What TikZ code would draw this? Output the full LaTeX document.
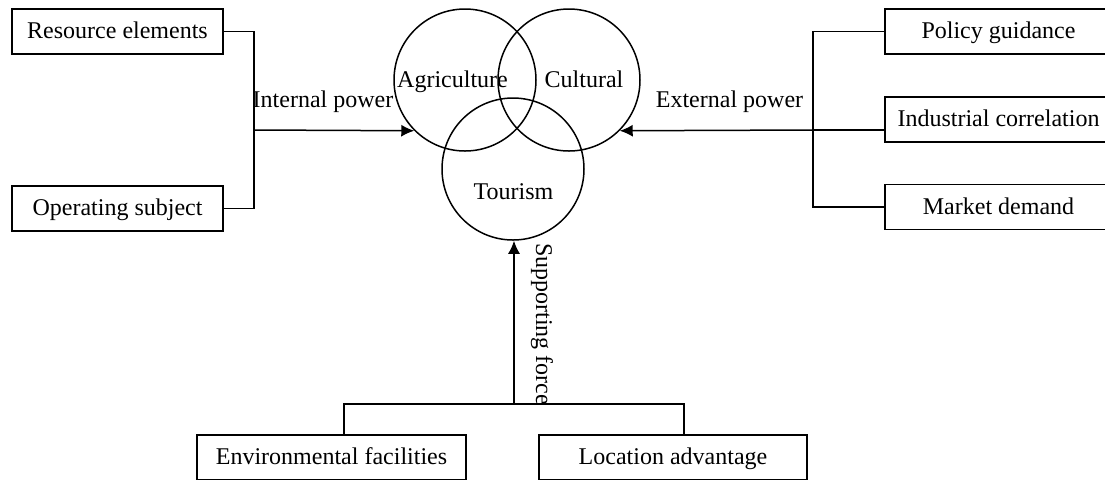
\documentclass[tikz,border=0pt]{standalone}
\usepackage{fontspec}
\setmainfont{Liberation Serif}
\usetikzlibrary{arrows.meta}
\tikzset{
  px/.style={x=0.5pt,y=-0.5pt},
  box/.style={draw,line width=0.75pt,inner sep=0pt,minimum height=22.5pt,text height=9pt,text depth=2pt,font=\fontsize{12pt}{14pt}\selectfont},
  ring/.style={draw,circle,line width=0.75pt,inner sep=0pt,minimum size=71pt},
  lbl/.style={inner sep=0pt,text height=9pt,text depth=2pt,font=\fontsize{12pt}{14pt}\selectfont},
  conn/.style={line width=0.75pt},
  arr/.style={line width=0.75pt,-{Latex[length=6.5pt,width=6pt]}}
}
\begin{document}
\begin{tikzpicture}[px]
\useasboundingbox (0,0) rectangle (1105,479);
\clip (0,0) rectangle (1105,479);
% circles
\node[ring] (agri) at (465,80) {};
\node[ring] (cult) at (569,80) {};
\node[ring] (tour) at (513,169) {};
\node[lbl] (agrit) at (452.5,80) {Agriculture};
\node[lbl] (cultt) at (584,80) {Cultural};
\node[lbl] (tourt) at (513.5,192) {Tourism};
% left boxes
\node[box,minimum width=105.5pt] (res) at (117.5,31.5) {Resource elements};
\node[box,minimum width=105.5pt] (op) at (117.5,208.5) {Operating subject};
% right boxes
\node[box,minimum width=113.5pt] (pol) at (998.5,31.5) {Policy guidance};
\node[box,minimum width=113.5pt] (ind) at (998.5,119.5) {Industrial correlation};
\node[box,minimum width=113.5pt] (mkt) at (998.5,207) {Market demand};
% bottom boxes
\node[box,minimum width=134.5pt] (env) at (331.5,457.5) {Environmental facilities};
\node[box,minimum width=134pt] (loc) at (673,457.5) {Location advantage};
% junctions
\coordinate (lj) at (254,130);
\coordinate (rj) at (813,130);
\coordinate (bj) at (514,404);
% left connectors
\draw[conn] (res.east) -| (lj);
\draw[conn] (op.east) -| (lj);
\draw[arr] (lj) -- (agri.225);
\node[lbl] (intl) at (323,100) {Internal power};
% right connectors
\draw[conn] (pol.west) -| (rj);
\draw[conn] (mkt.west) -| (rj);
\draw[conn] (ind.west |- rj) -- (rj);
\draw[arr] (rj) -- (cult.-45);
\node[lbl] (extl) at (729.5,100) {External power};
% bottom connectors
\coordinate (ea) at ([xshift=6.25pt]env.north);
\coordinate (la) at ([xshift=5.5pt]loc.north);
\draw[conn] (ea) -- (ea |- bj) -- (la |- bj) -- (la);
\draw[arr] (bj) -- (bj |- tour.south);
\node[lbl,rotate=-90] (supl) at (543,324) {Supporting force};
\end{tikzpicture}
\end{document}
